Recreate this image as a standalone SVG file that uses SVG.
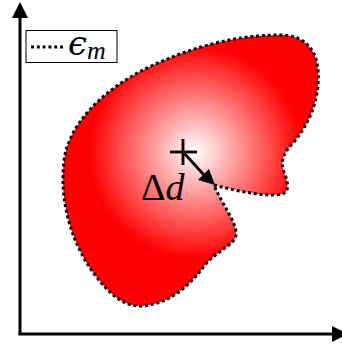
<svg xmlns="http://www.w3.org/2000/svg" width="342" height="347" viewBox="0 0 342 347">
<defs>
<radialGradient id="g" gradientUnits="userSpaceOnUse" cx="195" cy="152" r="118">
<stop offset="0" stop-color="#ffffff"/>
<stop offset="0.9" stop-color="#ff0000"/>
<stop offset="1" stop-color="#ff0000"/>
</radialGradient>
<style>
.ax{stroke:#000;stroke-width:3;fill:none}
.dot{stroke:#000;stroke-width:3;stroke-dasharray:3 2.8;fill:none}
.tx{font-family:"Liberation Serif",serif;fill:#000}
</style>
</defs>
<g id="axes">
<line class="ax" x1="20" y1="335" x2="20" y2="14"/>
<polygon points="20,2 12,18 28,18"/>
<line class="ax" x1="18.5" y1="334" x2="332" y2="334"/>
<polygon points="348,334 332,326 332,342"/>
</g>
<g id="region">
<path d="M 214,185 C 240,192 268,197 282,194 C 290,192 288,182 284,172 C 280,160 284,152 294,142 C 312,120 320,95 318,70 C 316,45 300,35 280,35 C 240,35 200,45 165,60 C 120,78 78,110 66,150 C 58,185 65,235 95,275 C 110,295 125,307 142,306 C 170,304 190,285 205,265 C 215,252 235,245 236,235 C 237,222 222,205 214,185 Z" fill="url(#g)"/>
<path class="dot" d="M 214,185 C 240,192 268,197 282,194 C 290,192 288,182 284,172 C 280,160 284,152 294,142 C 312,120 320,95 318,70 C 316,45 300,35 280,35 C 240,35 200,45 165,60 C 120,78 78,110 66,150 C 58,185 65,235 95,275 C 110,295 125,307 142,306 C 170,304 190,285 205,265 C 215,252 235,245 236,235 C 237,222 222,205 214,185 Z"/>
</g>
<g id="center">
<line x1="170" y1="152" x2="197" y2="152" stroke="#000" stroke-width="2.8"/>
<line x1="183" y1="139" x2="183" y2="165" stroke="#000" stroke-width="2.8"/>
</g>
<g id="connectors">
<line x1="184" y1="153" x2="204" y2="175" stroke="#000" stroke-width="2.8"/>
<polygon points="215,185 198,180 209,169"/>
</g>
<g id="label-dd">
<text class="tx" x="141" y="200" font-size="38">Δ<tspan font-style="italic">d</tspan></text>
</g>
<g id="legend">
<rect x="26" y="30.5" width="91" height="32" fill="#fff" stroke="#000" stroke-width="1"/>
<line class="dot" x1="31" y1="47" x2="64" y2="47" stroke-width="2.2" stroke-dasharray="2.2 2"/>
<text x="68" y="55" font-size="34" font-style="italic" font-family="'DejaVu Serif',serif">ϵ<tspan font-family="'Liberation Serif',serif" font-size="26" dy="4">m</tspan></text>
</g>
</svg>
